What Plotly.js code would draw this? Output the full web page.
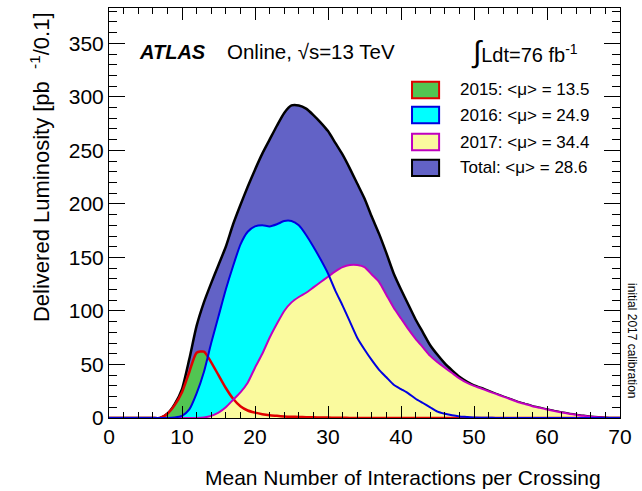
<!DOCTYPE html>
<html><head><meta charset="utf-8">
<script src="https://cdn.plot.ly/plotly-3.0.1.min.js"></script>
<style>html,body{margin:0;padding:0;background:#fff}#chart{width:642px;height:491px}</style>
</head><body><div id="chart"></div>
<script>
// Mean number of interactions per crossing (x)
const mu = [0,1,2,3,4,5,6,7,8,9,10,11,12,13,14,15,16,17,18,19,20,21,22,23,24,25,26,27,28,29,30,31,32,33,34,35,36,37,38,39,40,41,42,43,44,45,46,47,48,49,50,51,52,53,54,55,56,57,58,59,60,61,62,63,64,65,66,67,68,69,70];

// Delivered luminosity [pb^-1/0.1]
const lumi2015 = [0,0,0,0,0,0,0,0,4,12,24,43,61,62,52,40,28,18,11,7,5,3.5,2.5,2,1.5,1.2,1,0.8,0.6,0.5,0.4,0.3,0.2,0.1,0,0,0,0,0,0,0,0,0,0,0,0,0,0,0,0,0,0,0,0,0,0,0,0,0,0,0,0,0,0,0,0,0,0,0,0,0];
const lumi2016 = [0,0,0,0,0,0,0,0,0,0.5,2,8,23,43,70,95,120,142,162,174,179,180,179,181,184,184,180,171,160,148,135,119,105,90,75,64,54,45,38,31,27,23,18,14,10,6,4,2.5,1.5,1,0.5,0.3,0.2,0.1,0,0,0,0,0,0,0,0,0,0,0,0,0,0,0,0,0];
const lumi2017 = [0,0,0,0,0,0,0,0,0,0,0,0,0,0.5,2,5,10,17,24,33,47,60,75,88,100,108,113,117,122,127,132,137,141,143,143,141,134,127,115,103,93,83,74,66,58,52,47,42,37,33,30,27.5,25,22.5,20,17.5,15,13,11,9.5,8,6.5,5.2,4,3,2,1.2,0.6,0.2,0,0];
const lumiTotal = [0,0,0,0,0,0,0,0,4,13,27,55,86,108,126,143,160,181,199,216,232,247,260,273,285,292,292,289,283,276,268,257,246,233,219,205,188,172,154,135,120,106,92,80,68,59,51,44.5,38.5,34,30.5,28,25.2,22.6,20,17.5,15,13,11,9.5,8,6.5,5.2,4,3,2,1.2,0.6,0.2,0,0];

const legendLabels = ['2015: &lt;μ&gt; = 13.5','2016: &lt;μ&gt; = 24.9','2017: &lt;μ&gt; = 34.4','Total: &lt;μ&gt; = 28.6'];

const C = {
  totalFill:'#6262c6', totalLine:'#000000',
  f2015:'#52c552', l2015:'#e00000',
  f2016:'#00ffff', l2016:'#0000e0',
  f2017:'#fafa9e', l2017:'#c000c0'
};
const sp = {shape:'spline', smoothing:0.6};

const traces = [
  {x:mu, y:lumiTotal, type:'scatter', mode:'lines', fill:'tozeroy', fillcolor:C.totalFill,
   line:Object.assign({color:C.totalLine, width:2.5}, sp), hoverinfo:'skip'},
  {x:mu, y:lumi2015, type:'scatter', mode:'lines', fill:'tozeroy', fillcolor:C.f2015,
   line:Object.assign({color:C.l2015, width:0}, sp), hoverinfo:'skip'},
  {x:mu, y:lumi2016, type:'scatter', mode:'lines', fill:'tozeroy', fillcolor:C.f2016,
   line:Object.assign({color:C.l2016, width:0}, sp), hoverinfo:'skip'},
  {x:mu, y:lumi2017, type:'scatter', mode:'lines', fill:'tozeroy', fillcolor:C.f2017,
   line:Object.assign({color:C.l2017, width:0}, sp), hoverinfo:'skip'},
  {x:mu, y:lumi2015, type:'scatter', mode:'lines',
   line:Object.assign({color:C.l2015, width:2.5}, sp), hoverinfo:'skip'},
  {x:mu, y:lumi2017, type:'scatter', mode:'lines',
   line:Object.assign({color:C.l2017, width:2}, sp), hoverinfo:'skip'},
  {x:mu, y:lumi2016, type:'scatter', mode:'lines',
   line:Object.assign({color:C.l2016, width:2}, sp), hoverinfo:'skip'}
];

// legend (drawn manually, ROOT style)
const legFill = [C.f2015, C.f2016, C.f2017, C.totalFill];
const legLine = [C.l2015, C.l2016, C.l2017, C.totalLine];
const legY = [0.800, 0.739, 0.673, 0.610];
const shapes = [];
const annotations = [];
legendLabels.forEach((t,i)=>{
  shapes.push({type:'rect', xref:'paper', yref:'paper', x0:0.593, x1:0.646, y0:legY[i]-0.02, y1:legY[i]+0.02,
    fillcolor:legFill[i], line:{color:legLine[i], width:2}});
  annotations.push({xref:'paper', yref:'paper', x:0.683, y:legY[i], xanchor:'left', yanchor:'middle',
    text:t, showarrow:false, font:{size:17}});
});

annotations.push(
  {xref:'paper', yref:'paper', x:0.055, y:0.893, xanchor:'left', yanchor:'middle', showarrow:false,
   text:'<b><i>ATLAS</i></b>', font:{size:20}},
  {xref:'paper', yref:'paper', x:0.227, y:0.893, xanchor:'left', yanchor:'middle', showarrow:false,
   text:'Online, √s=13 TeV', font:{size:20.5}},
  {xref:'paper', yref:'paper', x:0.704, y:0.893, xanchor:'left', yanchor:'middle', showarrow:false,
   text:'<span style="font-size:30px">∫</span>Ldt=76 fb<sup>-1</sup>', font:{size:20}},
  {xref:'paper', yref:'paper', x:0.967, y:-0.144, xanchor:'right', yanchor:'middle', showarrow:false,
   text:'Mean Number of Interactions per Crossing', font:{size:21}},
  {xref:'paper', yref:'paper', x:-0.135, y:0.995, xanchor:'center', yanchor:'top', showarrow:false, textangle:-90,
   text:'Delivered Luminosity [pb&nbsp;&nbsp;<sup>-1</sup>/0.1]', font:{size:22}},
  {xref:'paper', yref:'paper', x:1.0235, y:0.19, xanchor:'center', yanchor:'middle', showarrow:false, textangle:90,
   text:'initial 2017 calibration', font:{size:12}}
);

const axisCommon = {
  ticks:'inside', tickcolor:'#000', tickwidth:1, showline:true, linecolor:'#000', linewidth:1,
  mirror:'ticks', showgrid:false, zeroline:false, tickfont:{size:21}
};

const layout = {
  width:642, height:491,
  margin:{l:109, r:22, t:8, b:73},
  paper_bgcolor:'#fff', plot_bgcolor:'#fff',
  font:{family:'"Liberation Sans", Arial, Helvetica, sans-serif', color:'#000', size:21},
  showlegend:false,
  xaxis:Object.assign({}, axisCommon, {range:[0,70], tick0:0, dtick:10, ticklen:12,
     minor:{dtick:2, ticks:'inside', ticklen:6, tickcolor:'#000', showgrid:false}}),
  yaxis:Object.assign({}, axisCommon, {range:[0,383], tick0:0, dtick:50, ticklen:16,
     minor:{dtick:10, ticks:'inside', ticklen:8, tickcolor:'#000', showgrid:false}}),
  shapes:shapes,
  annotations:annotations
};

Plotly.newPlot('chart', traces, layout, {displayModeBar:false, staticPlot:true});
</script>
</body></html>
